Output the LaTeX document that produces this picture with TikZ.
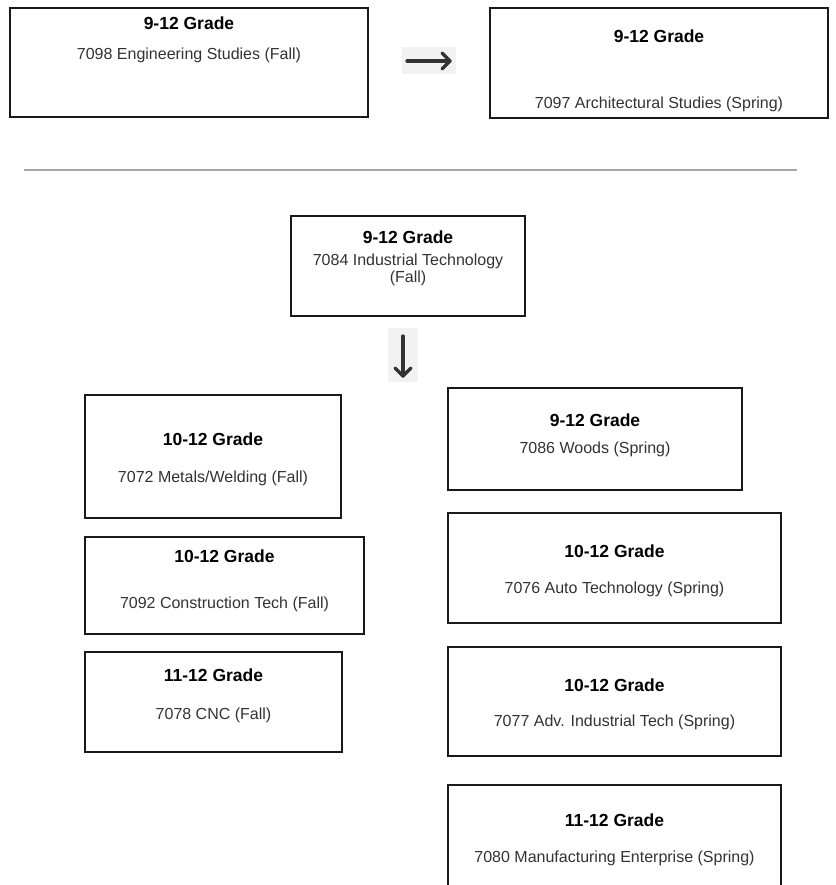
\documentclass[tikz,border=0pt]{standalone}
\usepackage{fontspec}
\setmainfont{Liberation Sans}
\usetikzlibrary{calc}
\definecolor{bodygray}{HTML}{333333}
\definecolor{iconbg}{HTML}{F2F2F2}
\definecolor{sepgray}{HTML}{A8A8A8}
\tikzset{
  box/.style={draw=black!90, line width=1.3pt, fill=white, rectangle, inner sep=0pt},
  ttl/.style={font=\fontsize{17.5}{20}\selectfont\bfseries, text=black, inner sep=0pt},
  bdy/.style={font=\fontsize{16}{17}\selectfont, text=bodygray, inner sep=0pt, align=center},
  iconbox/.style={fill=iconbg, draw=none, rectangle, inner sep=0pt},
  iconline/.style={draw=bodygray, line width=3.2pt, line cap=round, line join=round},
  sep/.style={draw=sepgray, line width=1.8pt}
}
\begin{document}
\begin{tikzpicture}[x=1pt,y=-1pt]
\useasboundingbox (0,0) rectangle (835,885);
\clip (0,0) rectangle (835,885);
% top row
\node[box, minimum width=358pt, minimum height=109pt] (b1) at (189,62.5) {};
\node[ttl] (b1t) at (189,23) {9-12 Grade};
\node[bdy] (b1b) at (189,55) {7098 Engineering Studies (Fall)};
\node[box, minimum width=338pt, minimum height=110pt] (b2) at (659,63) {};
\node[ttl] (b2t) at (659,36) {9-12 Grade};
\node[bdy] (b2b) at (659,104) {7097 Architectural Studies (Spring)};
\node[iconbox, minimum width=54pt, minimum height=27pt] (ra) at (429,60.5) {};
\coordinate (raS) at (407,61);
\coordinate (raE) at (450,61);
\draw[iconline] (raS) -- (raE);
\draw[iconline] ($(raE)+(-8,-8)$) -- (raE) -- ($(raE)+(-8,8)$);
% separator
\coordinate (sepL) at (24,170);
\coordinate (sepR) at (797,170);
\draw[sep] (sepL) -- (sepR);
% center
\node[box, minimum width=234pt, minimum height=100pt] (c) at (408,266) {};
\node[ttl] (ct) at (408,237) {9-12 Grade};
\node[bdy] (cb) at (408,270) {7084 Industrial Technology\\(Fall)};
\node[iconbox, minimum width=30pt, minimum height=54pt] (da) at (403,355) {};
\coordinate (daS) at (403,336);
\coordinate (daE) at (403,376);
\draw[iconline] (daS) -- (daE);
\draw[iconline] ($(daE)+(-8,-8)$) -- (daE) -- ($(daE)+(8,-8)$);
% left column
\node[box, minimum width=256pt, minimum height=123pt] (A) at (213,456.5) {};
\node[ttl] (At) at (213,439) {10-12 Grade};
\node[bdy] (Ab) at (213,478) {7072 Metals/Welding (Fall)};
\node[box, minimum width=279pt, minimum height=97pt] (B) at (224.5,585.5) {};
\node[ttl] (Bt) at (224.5,556) {10-12 Grade};
\node[bdy] (Bb) at (224.5,604) {7092 Construction Tech (Fall)};
\node[box, minimum width=257pt, minimum height=100pt] (C) at (213.5,702) {};
\node[ttl] (Ct) at (213.5,675) {11-12 Grade};
\node[bdy] (Cb) at (213.5,715) {7078 CNC (Fall)};
% right column
\node[box, minimum width=294pt, minimum height=102pt] (D) at (595,439) {};
\node[ttl] (Dt) at (595,420) {9-12 Grade};
\node[bdy] (Db) at (595,449) {7086 Woods (Spring)};
\node[box, minimum width=333pt, minimum height=110pt] (E) at (614.5,568) {};
\node[ttl] (Et) at (614.5,551) {10-12 Grade};
\node[bdy] (Eb) at (614.5,589) {7076 Auto Technology (Spring)};
\node[box, minimum width=333pt, minimum height=109pt] (F) at (614.5,701.5) {};
\node[ttl] (Ft) at (614.5,685) {10-12 Grade};
\node[bdy] (Fb) at (614.5,722) {7077 Adv. Industrial Tech (Spring)};
\node[box, minimum width=333pt, minimum height=120pt] (G) at (614.5,845) {};
\node[ttl] (Gt) at (614.5,820) {11-12 Grade};
\node[bdy] (Gb) at (614.5,858) {7080 Manufacturing Enterprise (Spring)};
\end{tikzpicture}
\end{document}
